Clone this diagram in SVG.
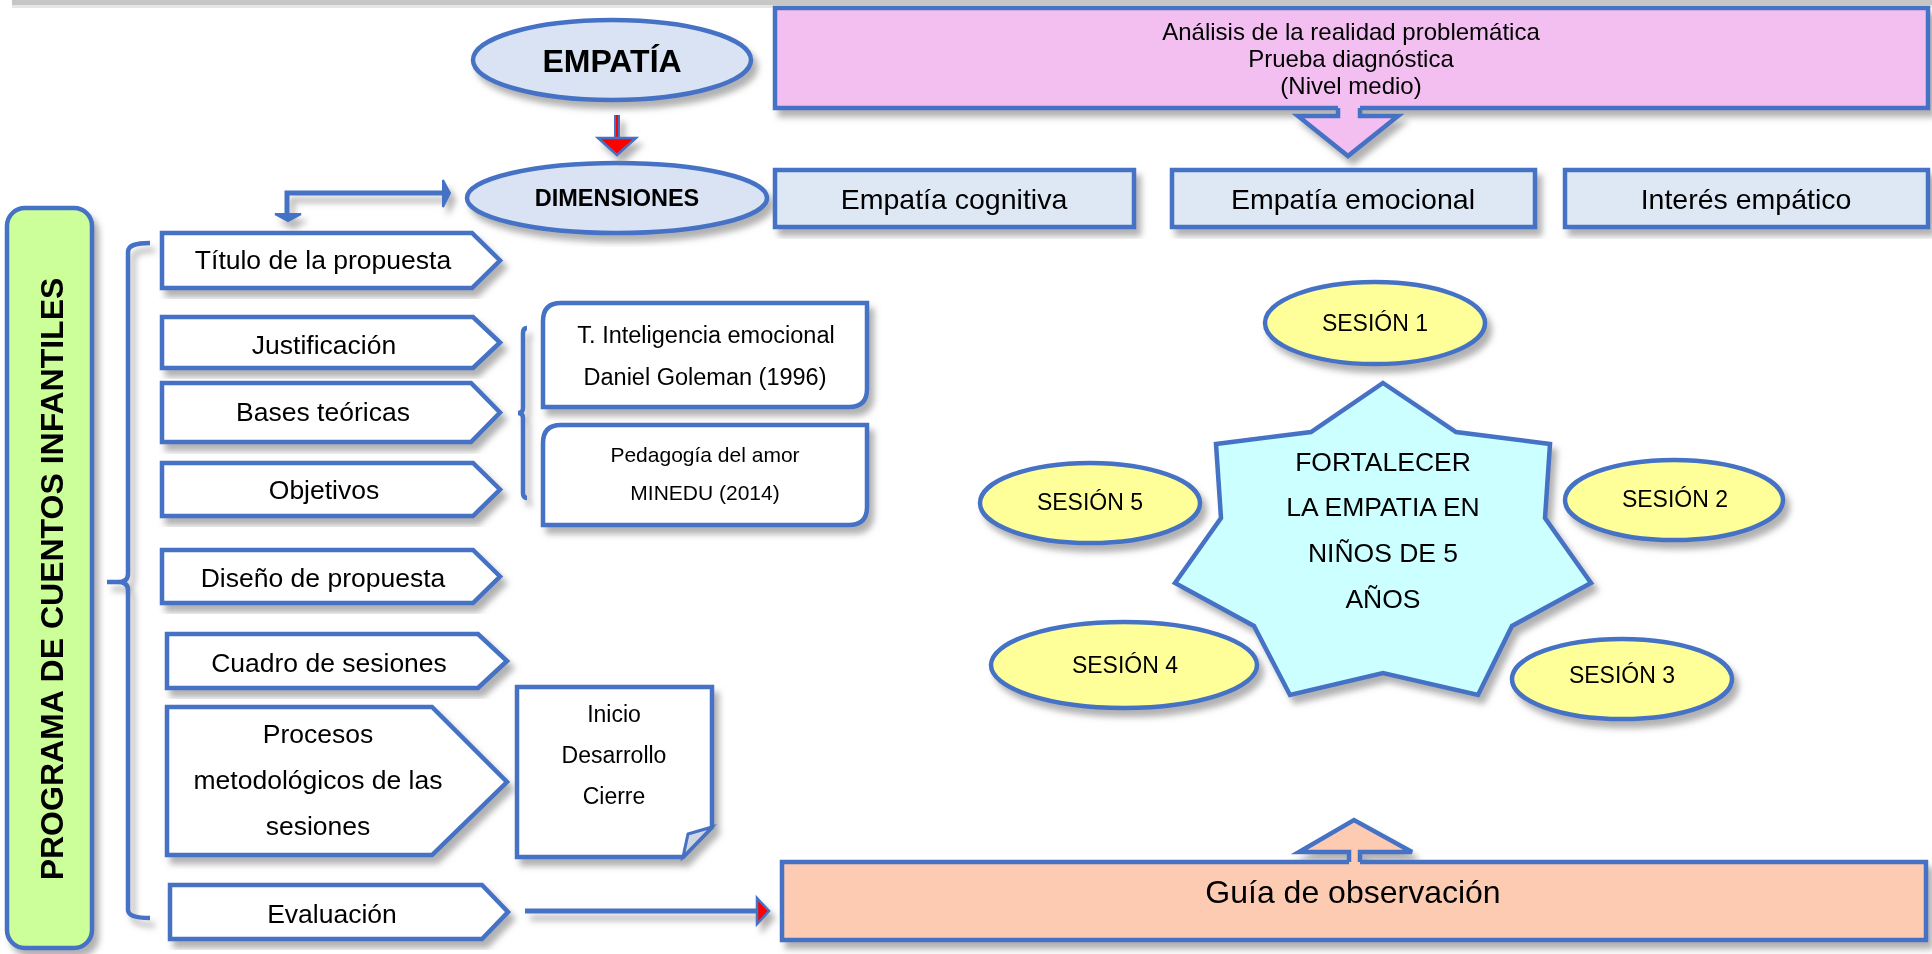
<svg xmlns="http://www.w3.org/2000/svg" width="1932" height="954" viewBox="0 0 1932 954">
<defs>
<filter id="sh" x="-10%" y="-10%" width="125%" height="130%">
<feDropShadow dx="5" dy="7" stdDeviation="3" flood-color="#7f7f7f" flood-opacity="0.6"/>
</filter>
<style>
.b{stroke:#4472C4;stroke-width:4.5;stroke-linejoin:miter}
.t{font-family:"Liberation Sans",Arial,sans-serif;fill:#000;text-anchor:middle}
.w{fill:#fff}
.ln{fill:none;stroke:#4472C4;stroke-width:4.5}
</style>
</defs>
<rect x="0" y="0" width="1932" height="954" fill="#fff"/>
<rect x="12" y="0" width="1920" height="5" fill="#c6c6c6"/>
<rect x="12" y="5" width="1920" height="3" fill="#e6e6e6"/>

<g id="empatia" filter="url(#sh)">
<ellipse cx="612" cy="60" rx="139" ry="40" fill="#DAE3F3" class="b"/>
<text x="612" y="72" class="t" font-size="32" font-weight="bold">EMPATÍA</text>
</g>
<g id="dimensiones" filter="url(#sh)">
<ellipse cx="617" cy="198" rx="150" ry="35" fill="#DAE3F3" class="b"/>
<text x="617" y="206" class="t" font-size="23.5" font-weight="bold">DIMENSIONES</text>
</g>
<g id="analisis" filter="url(#sh)">
<rect x="775" y="8" width="1153" height="100" fill="#F2BFF0" class="b"/>
<polygon points="1338,104 1338,116 1298,116 1348,156 1398,116 1360,116 1360,104" fill="#F2BFF0"/>
<path d="M1338,108 L1338,116 L1298,116 L1348,156 L1398,116 L1360,116 L1360,108" fill="none" class="b"/>
<text class="t" font-size="24"><tspan x="1351" y="40">Análisis de la realidad problemática</tspan><tspan x="1351" y="67">Prueba diagnóstica</tspan><tspan x="1351" y="94">(Nivel medio)</tspan></text>
</g>
<g id="cognitiva" filter="url(#sh)">
<rect x="775" y="170" width="359" height="57" fill="#DEE8F5" class="b"/>
<text x="954" y="209" class="t" font-size="28.5">Empatía cognitiva</text>
</g>
<g id="emocional" filter="url(#sh)">
<rect x="1172" y="170" width="363" height="57" fill="#DEE8F5" class="b"/>
<text x="1353" y="209" class="t" font-size="28.5">Empatía emocional</text>
</g>
<g id="interes" filter="url(#sh)">
<rect x="1565" y="170" width="363" height="57" fill="#DEE8F5" class="b"/>
<text x="1746" y="209" class="t" font-size="28.5">Interés empático</text>
</g>

<g id="programa" filter="url(#sh)">
<rect x="7" y="208" width="85" height="740" rx="18" fill="#CCFF99" class="b"/>
<text transform="translate(63,579) rotate(-90)" x="0" y="0" class="t" font-size="32" font-weight="bold">PROGRAMA DE CUENTOS INFANTILES</text>
</g>

<g id="brackets" filter="url(#sh)">
<path class="ln" d="M150,243 C136,243 128,245 128,252 L128,574 Q128,582 118,582 L107,582 M118,582 Q128,582 128,590 L128,910 C128,916 136,918 150,918"/>
<path class="ln" d="M527,328 Q523,328 523,333 L523,408 Q523,413 518,413 M518,413 Q523,413 523,418 L523,493 Q523,498 527,498"/>
</g>

<g id="titulo" filter="url(#sh)">
<polygon points="162,233 472,233 500,260.5 472,288 162,288" class="b w"/>
<text x="323" y="269" class="t" font-size="26.5">Título de la propuesta</text>
</g>
<g id="justificacion" filter="url(#sh)">
<polygon points="162,317 473,317 500,342.5 473,368 162,368" class="b w"/>
<text x="324" y="354" class="t" font-size="26.5">Justificación</text>
</g>
<g id="bases" filter="url(#sh)">
<polygon points="162,383 471,383 500,412.5 471,442 162,442" class="b w"/>
<text x="323" y="421" class="t" font-size="26.5">Bases teóricas</text>
</g>
<g id="objetivos" filter="url(#sh)">
<polygon points="162,463 473,463 500,489.5 473,516 162,516" class="b w"/>
<text x="324" y="499" class="t" font-size="26.5">Objetivos</text>
</g>
<g id="diseno" filter="url(#sh)">
<polygon points="162,550 473,550 500,576.5 473,603 162,603" class="b w"/>
<text x="323" y="587" class="t" font-size="26.5">Diseño de propuesta</text>
</g>
<g id="cuadro" filter="url(#sh)">
<polygon points="167,634 478,634 507,661 478,688 167,688" class="b w"/>
<text x="329" y="672" class="t" font-size="26.5">Cuadro de sesiones</text>
</g>
<g id="procesos" filter="url(#sh)">
<polygon points="167,707 432,707 507,782 432,855 167,855" class="b w"/>
<text class="t" font-size="26.5"><tspan x="318" y="743">Procesos</tspan><tspan x="318" y="789">metodológicos de las</tspan><tspan x="318" y="835">sesiones</tspan></text>
</g>
<g id="evaluacion" filter="url(#sh)">
<polygon points="170,885 482,885 508,912 482,939 170,939" class="b w"/>
<text x="332" y="923" class="t" font-size="26.5">Evaluación</text>
</g>

<g id="goleman" filter="url(#sh)">
<path d="M561,303 L867,303 L867,389 Q867,407 849,407 L543,407 L543,321 Q543,303 561,303 Z" class="b w"/>
<text class="t" font-size="23.5"><tspan x="706" y="343">T. Inteligencia emocional</tspan><tspan x="705" y="385">Daniel Goleman (1996)</tspan></text>
</g>
<g id="minedu" filter="url(#sh)">
<path d="M561,425 L867,425 L867,507 Q867,525 849,525 L543,525 L543,443 Q543,425 561,425 Z" class="b w"/>
<text class="t" font-size="21"><tspan x="705" y="462">Pedagogía del amor</tspan><tspan x="705" y="500">MINEDU (2014)</tspan></text>
</g>
<g id="inicio" filter="url(#sh)">
<path d="M517,687 L712,687 L712,827 L683,857 L517,857 Z" class="b w"/>
<path d="M712,827 L688,834 L683,857 Z" fill="#cfd6e4" stroke="#4472C4" stroke-width="3" stroke-linejoin="miter"/>
<text class="t" font-size="23"><tspan x="614" y="722">Inicio</tspan><tspan x="614" y="763">Desarrollo</tspan><tspan x="614" y="804">Cierre</tspan></text>
</g>

<g id="guia" filter="url(#sh)">
<rect x="782" y="862" width="1144" height="78" fill="#FCCBB2" class="b"/>
<polygon points="1349,866 1349,852 1299,852 1354,820 1412,852 1360,852 1360,866" fill="#FCCBB2"/>
<path d="M1349,862 L1349,852 L1299,852 L1354,820 L1412,852 L1360,852 L1360,862" fill="none" class="b"/>
<text x="1353" y="903" class="t" font-size="32">Guía de observación</text>
</g>

<g id="estrella" filter="url(#sh)">
<polygon points="1383,383 1456,432 1550,444 1545,518 1591,583 1512,626 1478,695 1383,673 1290,695 1254,626 1175,583 1221,518 1216,444 1311,432" fill="#CCFFFF" class="b"/>
<text class="t" font-size="26.5"><tspan x="1383" y="471">FORTALECER</tspan><tspan x="1383" y="516">LA EMPATIA EN</tspan><tspan x="1383" y="562">NIÑOS DE 5</tspan><tspan x="1383" y="608">AÑOS</tspan></text>
</g>
<g id="sesion1" filter="url(#sh)">
<ellipse cx="1375" cy="323" rx="110" ry="41" fill="#FFFF99" class="b"/>
<text x="1375" y="331" class="t" font-size="23">SESIÓN 1</text>
</g>
<g id="sesion2" filter="url(#sh)">
<ellipse cx="1674" cy="500" rx="109" ry="40" fill="#FFFF99" class="b"/>
<text x="1675" y="507" class="t" font-size="23">SESIÓN 2</text>
</g>
<g id="sesion3" filter="url(#sh)">
<ellipse cx="1622" cy="679" rx="110" ry="40" fill="#FFFF99" class="b"/>
<text x="1622" y="683" class="t" font-size="23">SESIÓN 3</text>
</g>
<g id="sesion4" filter="url(#sh)">
<ellipse cx="1124" cy="665" rx="133" ry="43" fill="#FFFF99" class="b"/>
<text x="1125" y="673" class="t" font-size="23">SESIÓN 4</text>
</g>
<g id="sesion5" filter="url(#sh)">
<ellipse cx="1090" cy="503" rx="110" ry="40" fill="#FFFF99" class="b"/>
<text x="1090" y="510" class="t" font-size="23">SESIÓN 5</text>
</g>

<g id="connectors" filter="url(#sh)">
<line x1="617" y1="115" x2="617" y2="139" stroke="#4472C4" stroke-width="6"/>
<line x1="617" y1="115" x2="617" y2="139" stroke="#FF0000" stroke-width="2"/>
<polygon points="598,138 636,138 617,155" fill="#FF0000" stroke="#4472C4" stroke-width="2.5"/>
<path d="M444,193 L287,193 L287,214" fill="none" stroke="#4472C4" stroke-width="5"/>
<polygon points="443,180 450,193 443,207" fill="#4472C4" stroke="#4472C4" stroke-width="2"/>
<polygon points="275,214 301,214 288,221" fill="#4472C4" stroke="#4472C4" stroke-width="2"/>
<line x1="525" y1="911" x2="758" y2="911" stroke="#4472C4" stroke-width="5"/>
<polygon points="757,898 769,911 757,924" fill="#FF0000" stroke="#4472C4" stroke-width="2.5"/>
</g>
</svg>
